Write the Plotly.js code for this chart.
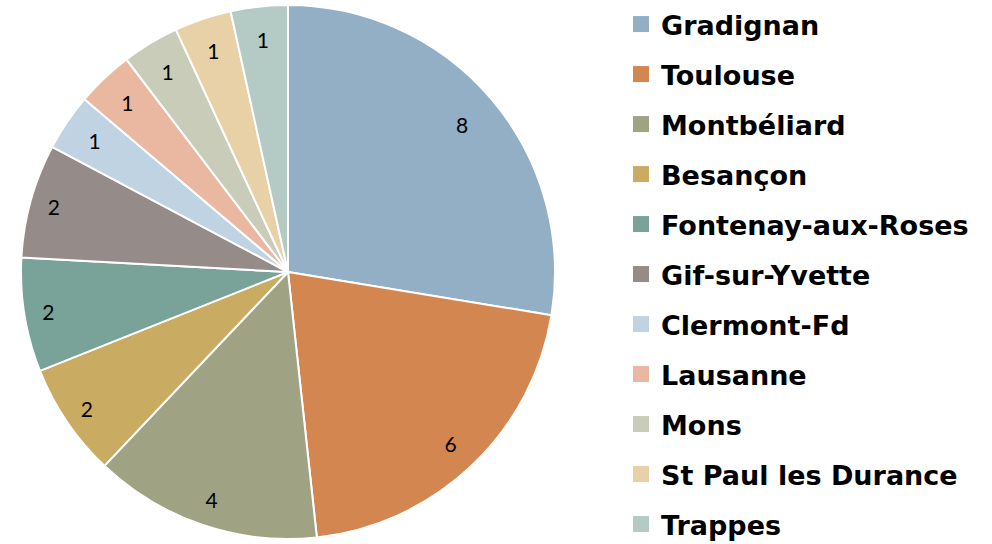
<!DOCTYPE html>
<html><head><meta charset="utf-8">
<script src="https://cdn.plot.ly/plotly-3.0.1.min.js"></script>
<style>html,body{margin:0;padding:0;background:#fff;}#chart{width:992px;height:544px;}</style>
</head><body><div id="chart"></div>
<script>
const cities = ["Gradignan","Toulouse","Montbéliard","Besançon","Fontenay-aux-Roses","Gif-sur-Yvette","Clermont-Fd","Lausanne","Mons","St Paul les Durance","Trappes"];
const counts = [8,6,4,2,2,2,1,1,1,1,1];
const colors = ["#93AFC6","#D3864F","#A0A383","#C9AB62","#79A299","#958C8A","#C0D3E2","#EAB7A1","#C9CCB8","#E8D1A7","#B3CAC5"];

// label rings: which slices get their value label, ring hole and ring radius (px)
const labelRings = [
  {hole: 0.71, r: 267, idx: [0]},
  {hole: 0.77, r: 267, idx: [1]},
  {hole: 0.795, r: 267, idx: [2]},
  {hole: 0.82, r: 267, idx: [3, 4, 5]},
  {hole: 0.0, r: 259, idx: [6, 7, 8, 9, 10]}
];

const W = 992, H = 544, MT = 5, MB = 5;
const CX = 288, PH = H - MT - MB, CY = PH / 2;
function domainFor(r) {
  return {x: [(CX - r) / W, (CX + r) / W], y: [(CY - r) / PH, (CY + r) / PH]};
}

const traces = [{
  type: "pie",
  labels: cities,
  values: counts,
  sort: false,
  direction: "clockwise",
  rotation: 0,
  marker: {colors: colors, line: {color: "#ffffff", width: 2}},
  textinfo: "none",
  domain: domainFor(267),
  showlegend: false,
  hoverinfo: "label+value"
}];
labelRings.forEach(ring => {
  traces.push({
    type: "pie",
    labels: cities,
    values: counts,
    sort: false,
    direction: "clockwise",
    rotation: 0,
    hole: ring.hole,
    marker: {colors: cities.map(() => "rgba(0,0,0,0)"), line: {width: 0}},
    texttemplate: cities.map((c, i) => ring.idx.includes(i) ? "%{value}" : ""),
    textposition: "inside",
    insidetextorientation: "horizontal",
    textfont: {family: "Lato, sans-serif", size: 21, color: "#000"},
    domain: domainFor(ring.r),
    showlegend: false,
    hoverinfo: "skip"
  });
});
cities.forEach((c, i) => {
  traces.push({
    type: "scatter", mode: "markers", x: [null], y: [null],
    name: c, legendgroup: "g" + i,
    marker: {symbol: "square", size: 16, color: colors[i]},
    xaxis: "x", yaxis: "y", hoverinfo: "skip"
  });
});

const layout = {
  width: W, height: H,
  margin: {l: 0, r: 0, t: MT, b: MB},
  paper_bgcolor: "#fff", plot_bgcolor: "#fff",
  xaxis: {visible: false, domain: [0.98, 1]},
  yaxis: {visible: false},
  showlegend: true,
  legend: {
    x: 0.626, y: 0.99, xanchor: "left", yanchor: "top",
    traceorder: "grouped", tracegroupgap: 11.9,
    maxheight: 700,
    font: {family: "DejaVu Sans, sans-serif", size: 27, color: "#000", weight: "bold"},
    bgcolor: "rgba(0,0,0,0)", itemclick: false
  }
};
Plotly.newPlot("chart", traces, layout, {displayModeBar: false, staticPlot: true});
</script></body></html>
